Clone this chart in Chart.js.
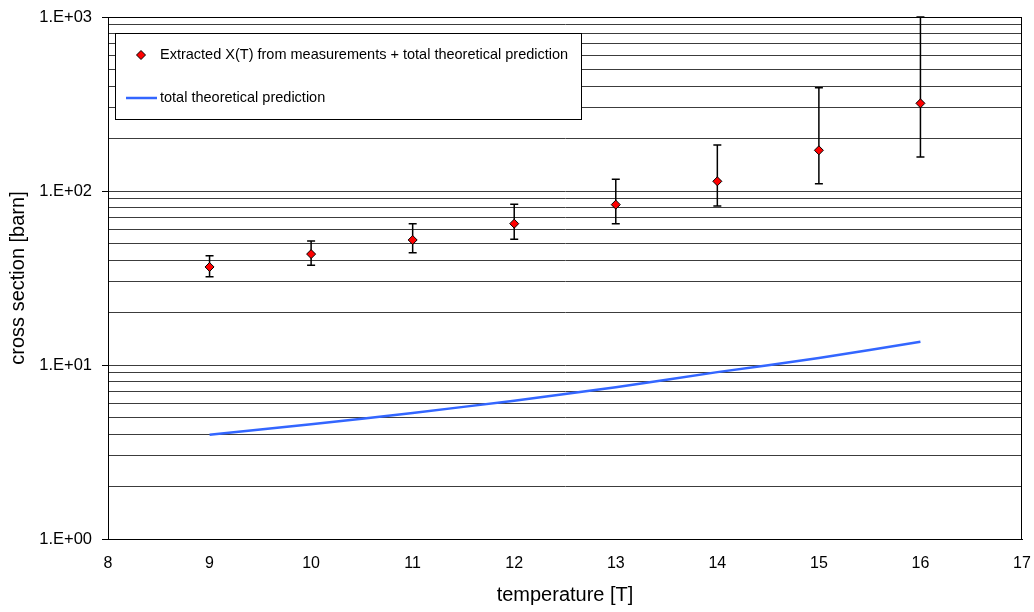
<!DOCTYPE html>
<html>
<head>
<meta charset="utf-8">
<script src="https://cdn.jsdelivr.net/npm/chart.js@4.4.1/dist/chart.umd.min.js"></script>
<style>
  html, body { margin: 0; padding: 0; background: #ffffff; }
  #wrap { width: 1034px; height: 612px; position: relative; }
</style>
</head>
<body>
<div id="wrap"><canvas id="c" width="1034" height="612"></canvas></div>
<script>
// ---- data ----
const temperatures = [9, 10, 11, 12, 13, 14, 15, 16];
const extractedX   = [36.6, 43.4, 52.3, 64.9, 83.5, 113.7, 171.4, 319];
const errUpper     = [42.5, 51.6, 64.9, 83.9, 117, 184, 392, 1000];
const errLower     = [32.2, 37.4, 44.2, 52.8, 64.9, 82.0, 110, 157];
const theoryX      = [3.97, 4.56, 5.30, 6.24, 7.45, 9.1, 10.96, 13.6];
const yTickLabels  = ['1.E+00', '1.E+01', '1.E+02', '1.E+03'];
const xTicks       = [8, 9, 10, 11, 12, 13, 14, 15, 16, 17];
const seriesLabels = ['Extracted X(T) from measurements + total theoretical prediction', 'total theoretical prediction'];

const FONT = '"Liberation Sans", Arial, sans-serif';

// log gridline values (1..9 per decade)
const yGridValues = [];
for (let d = 0; d < yTickLabels.length; d++) {
  const base = Math.pow(10, d);
  if (d === yTickLabels.length - 1) { yGridValues.push(base); break; }
  for (let m = 1; m <= 9; m++) yGridValues.push(m * base);
}
function isMajor(v) { const l = Math.log10(v); return Math.abs(l - Math.round(l)) < 1e-9; }

const errorBarPlugin = {
  id: 'errorBars',
  beforeDatasetsDraw(chart) {
    const ctx = chart.ctx, xs = chart.scales.x, ys = chart.scales.y;
    ctx.save();
    ctx.strokeStyle = '#000';
    ctx.lineWidth = 1.5;
    temperatures.forEach((t, i) => {
      const px = xs.getPixelForValue(t);
      const pTop = ys.getPixelForValue(errUpper[i]);
      const pBot = ys.getPixelForValue(errLower[i]);
      ctx.beginPath();
      ctx.moveTo(px, pTop); ctx.lineTo(px, pBot);
      ctx.moveTo(px - 4, pTop); ctx.lineTo(px + 4, pTop);
      ctx.moveTo(px - 4, pBot); ctx.lineTo(px + 4, pBot);
      ctx.stroke();
    });
    ctx.restore();
  }
};

const frameLegendPlugin = {
  id: 'frameLegend',
  afterDraw(chart) {
    const ctx = chart.ctx, a = chart.chartArea;
    ctx.save();
    ctx.strokeStyle = '#000';
    ctx.lineWidth = 1;
    ctx.strokeRect(Math.round(a.left) + 0.5, Math.round(a.top) + 0.5, Math.round(a.right - a.left) - 1, Math.round(a.bottom - a.top));
    // legend box
    const lx = 115.5, ly = 33.5, lw = 466, lh = 86;
    ctx.fillStyle = '#fff';
    ctx.fillRect(lx, ly, lw, lh);
    ctx.strokeRect(lx, ly, lw, lh);
    ctx.font = '14.5px ' + FONT;
    ctx.fillStyle = '#000';
    ctx.textBaseline = 'middle';
    ctx.textAlign = 'left';
    // entry 1: diamond marker
    const d0 = chart.data.datasets[0];
    ctx.beginPath();
    ctx.moveTo(141, 50.5); ctx.lineTo(145.5, 55); ctx.lineTo(141, 59.5); ctx.lineTo(136.5, 55); ctx.closePath();
    ctx.fillStyle = d0.backgroundColor; ctx.fill();
    ctx.strokeStyle = d0.borderColor; ctx.lineWidth = 1; ctx.stroke();
    ctx.fillStyle = '#000';
    ctx.fillText(d0.label, 160, 55);
    // entry 2: line
    const d1 = chart.data.datasets[1];
    ctx.beginPath();
    ctx.moveTo(126, 98); ctx.lineTo(157, 98);
    ctx.strokeStyle = d1.borderColor; ctx.lineWidth = 2.5; ctx.stroke();
    ctx.fillText(d1.label, 160, 98);
    ctx.restore();
  }
};

new Chart(document.getElementById('c'), {
  type: 'scatter',
  data: {
    datasets: [
      {
        label: seriesLabels[0],
        data: temperatures.map((t, i) => ({ x: t, y: extractedX[i] })),
        pointStyle: 'rectRot',
        pointRadius: 4.5,
        pointHoverRadius: 4.5,
        backgroundColor: '#ff0000',
        borderColor: '#000000',
        borderWidth: 1,
        showLine: false,
        order: 0
      },
      {
        label: seriesLabels[1],
        data: temperatures.map((t, i) => ({ x: t, y: theoryX[i] })),
        showLine: true,
        borderColor: '#3366ff',
        backgroundColor: '#3366ff',
        borderWidth: 2.5,
        pointRadius: 0,
        tension: 0.2,
        order: 1
      }
    ]
  },
  options: {
    responsive: false,
    animation: false,
    events: [],
    layout: { padding: { top: 17, right: 12, left: 0, bottom: 0 } },
    plugins: { legend: { display: false }, tooltip: { enabled: false } },
    scales: {
      x: {
        type: 'linear',
        min: xTicks[0],
        max: xTicks[xTicks.length - 1],
        afterBuildTicks: (s) => { s.ticks = xTicks.map(v => ({ value: v })); },
        afterFit: (s) => { s.height = 73; s.paddingLeft = 0; s.paddingRight = 0; },
        grid: { display: false, drawTicks: false },
        border: { display: true, color: '#000', width: 1 },
        ticks: { color: '#000', font: { family: FONT, size: 16 }, padding: 15, maxRotation: 0, autoSkip: false },
        title: { display: true, text: 'temperature [T]', color: '#000', font: { family: FONT, size: 20 }, padding: { top: 0, bottom: 5 } }
      },
      y: {
        type: 'logarithmic',
        min: 1,
        max: 1000,
        afterBuildTicks: (s) => { s.ticks = yGridValues.map(v => ({ value: v, major: isMajor(v) })); },
        afterFit: (s) => { s.width = 108; s.paddingTop = 0; s.paddingBottom = 0; },
        grid: {
          color: '#3c3c3c',
          lineWidth: 1,
          drawTicks: true,
          tickLength: 6,
          tickColor: (c) => (c.tick && isMajor(c.tick.value)) ? '#000' : 'rgba(0,0,0,0)'
        },
        border: { display: true, color: '#000', width: 1 },
        ticks: {
          color: '#000',
          font: { family: FONT, size: 16.5 },
          padding: 10,
          autoSkip: false,
          callback: (v) => isMajor(v) ? yTickLabels[Math.round(Math.log10(v))] : ''
        },
        title: { display: true, text: 'cross section [barn]', color: '#000', font: { family: FONT, size: 20 }, padding: { top: 6, bottom: 0 } }
      }
    }
  },
  plugins: [errorBarPlugin, frameLegendPlugin]
});
</script>
</body>
</html>
